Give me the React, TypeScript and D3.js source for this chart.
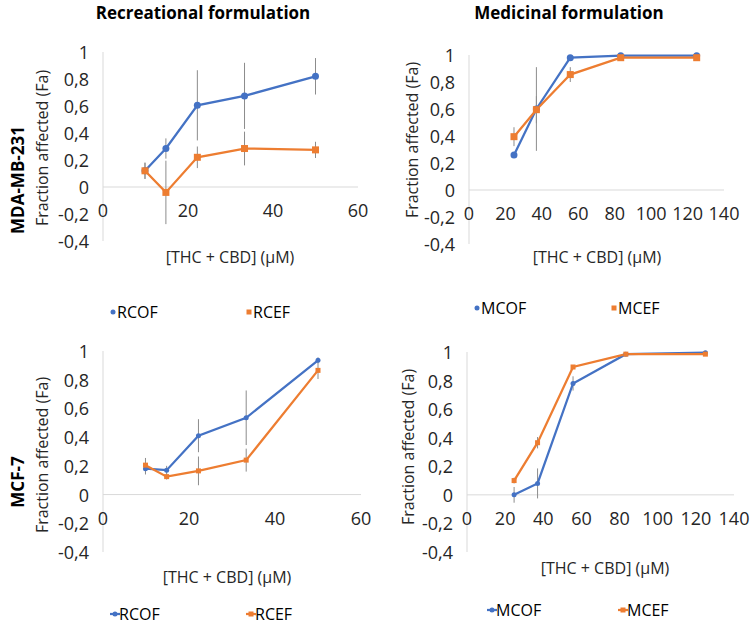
import React, { useEffect, useRef } from "react";
import * as d3 from "d3";

// concentrations (µM)
const recConc = [9.88, 14.8, 22.2, 33.3, 50];
const medConc = [24.7, 37, 55.6, 83.3, 125];

// MDA-MB-231
const rcofMda = [0.12, 0.285, 0.605, 0.675, 0.82];
const rcofMdaErr = [0.06, 0.075, 0.26, 0.245, 0.135];
const rcefMda = [0.12, -0.04, 0.22, 0.285, 0.275];
const rcefMdaErr = [0.06, 0.235, 0.08, 0.125, 0.06];
const mcofMda = [0.26, 0.6, 0.98, 0.995, 0.995];
const mcofMdaErr = [0, 0.31, 0, 0.005, 0.005];
const mcefMda = [0.395, 0.595, 0.855, 0.98, 0.98];
const mcefMdaErr = [0.07, 0.1, 0.055, 0.01, 0.01];

// MCF-7
const rcofMcf = [0.18, 0.17, 0.41, 0.535, 0.935];
const rcofMcfErr = [0.04, 0.03, 0.115, 0.19, 0.02];
const rcefMcf = [0.205, 0.125, 0.165, 0.24, 0.865];
const rcefMcfErr = [0.05, 0.02, 0.1, 0.08, 0.06];
const mcofMcf = [0, 0.08, 0.78, 0.985, 0.995];
const mcofMcfErr = [0.055, 0.105, 0.05, 0.005, 0.005];
const mcefMcf = [0.1, 0.365, 0.895, 0.985, 0.985];
const mcefMcfErr = [0.02, 0.04, 0.01, 0.01, 0.01];

const yTicks = [1, 0.8, 0.6, 0.4, 0.2, 0, -0.2, -0.4];
const recTicks = [0, 20, 40, 60];
const medTicks = [0, 20, 40, 60, 80, 100, 120, 140];

const BLUE = "#4472C4";
const ORANGE = "#ED7D31";
const FONT = "'Open Sans', sans-serif";

const panels = [
  {
    conc: recConc, xTicks: recTicks, names: ["RCOF", "RCEF"],
    series: [[rcofMda, rcofMdaErr], [rcefMda, rcefMdaErr]],
    box: { x0: 103, x1: 358, yTop: 52, yBot: 241 }, big: true,
    yTitle: [42, 148], xTitle: [230, 257], legend: { y: 312, xs: [113, 249] },
  },
  {
    conc: medConc, xTicks: medTicks, names: ["MCOF", "MCEF"],
    series: [[mcofMda, mcofMdaErr], [mcefMda, mcefMdaErr]],
    box: { x0: 469, x1: 724, yTop: 55, yBot: 244 }, big: true,
    yTitle: [412, 140], xTitle: [597, 257], legend: { y: 308, xs: [477, 614] },
  },
  {
    conc: recConc, xTicks: recTicks, names: ["RCOF", "RCEF"],
    series: [[rcofMcf, rcofMcfErr], [rcefMcf, rcefMcfErr]],
    box: { x0: 103, x1: 361, yTop: 351, yBot: 552 }, big: false,
    yTitle: [42, 455], xTitle: [227, 577], legend: { y: 614, xs: [115, 251] },
  },
  {
    conc: medConc, xTicks: medTicks, names: ["MCOF", "MCEF"],
    series: [[mcofMcf, mcofMcfErr], [mcefMcf, mcefMcfErr]],
    box: { x0: 467, x1: 734, yTop: 352, yBot: 552 }, big: false,
    yTitle: [408, 447], xTitle: [605, 568], legend: { y: 610, xs: [492, 623] },
  },
];

const fmt = (d: number) => String(d).replace(".", ",");

function drawMarker(g: any, i: number, x: number, y: number, big: boolean) {
  if (i === 0) {
    g.append("circle").attr("cx", x).attr("cy", y).attr("r", big ? 3.5 : 2.5).attr("fill", BLUE);
  } else {
    const s = big ? 7 : 5;
    g.append("rect").attr("x", x - s / 2).attr("y", y - s / 2).attr("width", s).attr("height", s).attr("fill", ORANGE);
  }
}

function App() {
  const ref = useRef<SVGSVGElement>(null);

  useEffect(() => {
    const svg = d3.select(ref.current);
    svg.selectAll("*").remove();
    svg.style("font-family", FONT);

    // column titles
    svg.append("text").attr("x", 203).attr("y", 12).attr("text-anchor", "middle")
      .attr("dominant-baseline", "central").attr("font-weight", "bold").attr("font-size", 17)
      .attr("fill", "#000").text("Recreational formulation");
    svg.append("text").attr("x", 569).attr("y", 12).attr("text-anchor", "middle")
      .attr("dominant-baseline", "central").attr("font-weight", "bold").attr("font-size", 17)
      .attr("fill", "#000").text("Medicinal formulation");

    // row labels
    svg.append("text").attr("transform", "translate(17,180) rotate(-90)").attr("text-anchor", "middle")
      .attr("dominant-baseline", "central").attr("font-weight", "bold").attr("font-size", 17).text("MDA-MB-231");
    svg.append("text").attr("transform", "translate(17,482) rotate(-90)").attr("text-anchor", "middle")
      .attr("dominant-baseline", "central").attr("font-weight", "bold").attr("font-size", 17).text("MCF-7");

    panels.forEach((p) => {
      const b = p.box;
      const x = d3.scaleLinear().domain([0, d3.max(p.xTicks) as number]).range([b.x0, b.x1]);
      const y = d3.scaleLinear().domain([-0.4, 1]).range([b.yBot, b.yTop]);
      const g = svg.append("g");

      // axes lines
      g.append("line").attr("x1", b.x0).attr("x2", b.x0).attr("y1", y(1)).attr("y2", y(-0.4))
        .attr("stroke", "#D9D9D9").attr("stroke-width", 1);
      g.append("line").attr("x1", b.x0).attr("x2", b.x1).attr("y1", y(0)).attr("y2", y(0))
        .attr("stroke", "#D9D9D9").attr("stroke-width", 1);

      // tick labels
      g.selectAll(".yt").data(yTicks).enter().append("text")
        .attr("x", b.x0 - 14).attr("y", (d) => y(d)).attr("text-anchor", "end")
        .attr("dominant-baseline", "central").attr("font-size", 18).attr("fill", "#262626").text(fmt);
      g.selectAll(".xt").data(p.xTicks).enter().append("text")
        .attr("x", (d) => x(d)).attr("y", y(0) + 23).attr("text-anchor", "middle")
        .attr("dominant-baseline", "central").attr("font-size", 18).attr("fill", "#262626").text((d) => String(d));

      // axis titles
      g.append("text").attr("transform", `translate(${p.yTitle[0]},${p.yTitle[1]}) rotate(-90)`)
        .attr("text-anchor", "middle").attr("dominant-baseline", "central").attr("font-size", 16)
        .attr("fill", "#262626").text("Fraction affected (Fa)");
      g.append("text").attr("x", p.xTitle[0]).attr("y", p.xTitle[1]).attr("text-anchor", "middle")
        .attr("dominant-baseline", "central").attr("font-size", 16).attr("fill", "#262626").text("[THC + CBD] (µM)");

      // error bars
      p.series.forEach(([vals, errs]) => {
        vals.forEach((v, k) => {
          if (errs[k] <= 0.005) return;
          g.append("line").attr("x1", x(p.conc[k])).attr("x2", x(p.conc[k]))
            .attr("y1", y(v + errs[k])).attr("y2", y(v - errs[k]))
            .attr("stroke", "#8C8C8C").attr("stroke-width", 1);
        });
      });

      // lines and markers
      const line = d3.line<number>().x((_, k) => x(p.conc[k])).y((d) => y(d));
      p.series.forEach(([vals], i) => {
        g.append("path").datum(vals).attr("d", line).attr("fill", "none")
          .attr("stroke", i === 0 ? BLUE : ORANGE).attr("stroke-width", 2.25);
      });
      p.series.forEach(([vals], i) => {
        vals.forEach((v, k) => drawMarker(g, i, x(p.conc[k]), y(v), p.big));
      });

      // legend
      p.names.forEach((name, i) => {
        const lx = p.legend.xs[i];
        if (!p.big) {
          g.append("line").attr("x1", lx - 5).attr("x2", lx + 5).attr("y1", p.legend.y).attr("y2", p.legend.y)
            .attr("stroke", i === 0 ? BLUE : ORANGE).attr("stroke-width", 2.25);
        }
        drawMarker(g, i, lx, p.legend.y, false);
        g.append("text").attr("x", lx + 4).attr("y", p.legend.y).attr("dominant-baseline", "central")
          .attr("font-size", 16).attr("fill", "#000").text(name);
      });
    });
  }, []);

  return (
    <div style={{ position: "absolute", left: 0, top: 0 }}>
      <svg ref={ref} width={752} height={626} style={{ display: "block", background: "#fff" }} />
    </div>
  );
}

export default App;
